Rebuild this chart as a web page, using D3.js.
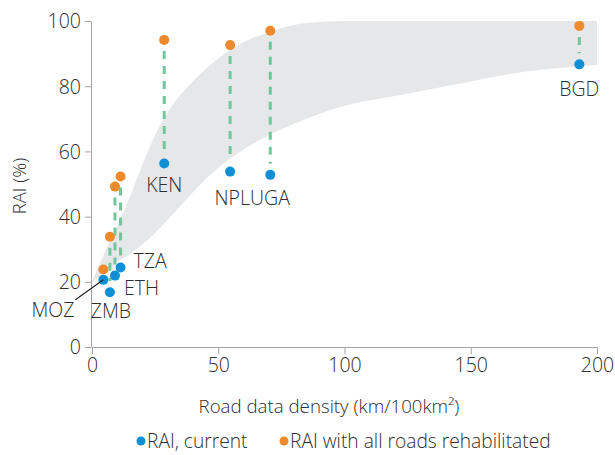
<!DOCTYPE html>
<html>
<head>
<meta charset="utf-8">
<script src="https://cdn.jsdelivr.net/npm/d3@7"></script>
<style>
  html, body { margin: 0; padding: 0; background: #fff; }
  svg { display: block; font-family: "Open Sans", Lato, sans-serif; }
</style>
</head>
<body>
<svg id="chart" width="615" height="455"></svg>
<script>
// ---------- data ----------
const countries   = ["MOZ", "ZMB", "ETH", "TZA", "KEN", "NPL", "UGA", "BGD"];
const density     = [4.5, 7.1, 9.1, 11.3, 28.6, 54.7, 70.6, 193.0];
const raiCurrent  = [20.6, 16.8, 21.9, 24.4, 56.3, 53.8, 52.8, 86.7];
const raiRehab    = [23.8, 33.8, 49.2, 52.3, 94.2, 92.6, 97.0, 98.5];

const bandX     = [0, 5, 10, 15, 20, 25, 30, 40, 50, 60, 70, 80, 90, 100, 120, 145, 170, 200];
const bandUpper = [20, 29, 37, 46, 56, 65, 72, 81.5, 88.5, 93.5, 96.5, 98.8, 99.7, 100, 100, 100, 100, 100];
const bandLower = [20, 23, 26, 28.5, 31.5, 35, 39, 47.5, 55, 60.5, 65, 68.5, 71.5, 74, 77, 80.7, 84.3, 86.5];

const xTicks = [0, 50, 100, 150, 200];
const yTicks = [0, 20, 40, 60, 80, 100];

const labelTexts = ["MOZ", "ZMB", "ETH", "TZA", "KEN", "NPLUGA", "BGD"];
const legendLabels = ["RAI, current", "RAI with all roads rehabilitated"];
const xTitle = "Road data density (km/100km²)";
const yTitle = "RAI (%)";

// ---------- layout / style ----------
const colors = { current: "#0f8fd5", rehab: "#ef8a2c", link: "#6fc79b", band: "#e6e7e8",
                 axis: "#a3a3a3", text: "#2e2e2e" };
const FONT = "'Open Sans', Lato, sans-serif";
const svg = d3.select("#chart");
const x = d3.scaleLinear().domain([0, 200]).range([92, 597]);
const y = d3.scaleLinear().domain([0, 100]).range([347, 21]);

// band
const bandData = bandX.map((d, i) => ({ x: d, lo: bandLower[i], hi: bandUpper[i] }));
svg.append("path")
  .datum(bandData)
  .attr("fill", colors.band)
  .attr("d", d3.area().x(d => x(d.x)).y0(d => y(d.lo)).y1(d => y(d.hi)).curve(d3.curveMonotoneX));

// axes
const yAxis = svg.append("g").attr("transform", `translate(${x(0) - 1},0)`)
  .call(d3.axisLeft(y).tickValues(yTicks).tickSize(6).tickPadding(4).tickSizeOuter(0));
const xAxis = svg.append("g").attr("transform", `translate(0,${y(0)})`)
  .call(d3.axisBottom(x).tickValues(xTicks).tickSize(7).tickPadding(4).tickSizeOuter(0));
[xAxis, yAxis].forEach(g => {
  g.selectAll("path, line").attr("stroke", colors.axis).attr("stroke-width", 1);
  g.selectAll("text").attr("fill", colors.text).style("font-size", "19.5px")
    .style("font-family", FONT).style("font-weight", 300);
});
yAxis.selectAll("text").attr("dy", "0.35em");

// axis titles
svg.append("text").attr("x", 329).attr("y", 413).attr("text-anchor", "middle")
  .attr("fill", colors.text).style("font-size", "18.7px").style("font-weight", 300).text(xTitle);
svg.append("text").attr("transform", `translate(26,${(y(0) + y(100)) / 2 + 2}) rotate(-90)`)
  .attr("text-anchor", "middle").attr("fill", colors.text).style("font-size", "18.5px")
  .style("font-weight", 300).text(yTitle);

// data rows
const rows = countries.map((c, i) => ({ c, d: density[i], cur: raiCurrent[i], reh: raiRehab[i] }));

// dashed links
svg.append("g").selectAll("line")
  .data(rows.filter(r => y(r.cur) - y(r.reh) > 22))
  .join("line")
  .attr("x1", r => x(r.d)).attr("x2", r => x(r.d))
  .attr("y1", r => y(r.reh) + 11).attr("y2", r => y(r.cur) - 11)
  .attr("stroke", colors.link).attr("stroke-width", 3)
  .attr("stroke-dasharray", "8,7");

// points
const r = 5;
svg.append("g").selectAll("circle")
  .data(rows).join("circle")
  .attr("cx", d => x(d.d)).attr("cy", d => y(d.reh)).attr("r", r).attr("fill", colors.rehab);
svg.append("g").selectAll("circle")
  .data(rows).join("circle")
  .attr("cx", d => x(d.d)).attr("cy", d => y(d.cur)).attr("r", r).attr("fill", colors.current);

// labels (placement offsets relative to the current-RAI point)
const byC = Object.fromEntries(rows.map(d => [d.c, d]));
const labelPlacement = {
  MOZ:    { ref: ["MOZ"], dx: -29, dy: 37, anchor: "end" },
  ZMB:    { ref: ["ZMB"], dx: 1, dy: 26, anchor: "middle" },
  ETH:    { ref: ["ETH"], dx: 9, dy: 19, anchor: "start" },
  TZA:    { ref: ["TZA"], dx: 13, dy: 1, anchor: "start" },
  KEN:    { ref: ["KEN"], dx: 0, dy: 29, anchor: "middle" },
  NPLUGA: { ref: ["NPL", "UGA"], dx: 2, dy: 32, anchor: "middle" },
  BGD:    { ref: ["BGD"], dx: 0, dy: 32, anchor: "middle" }
};
const labels = labelTexts.map(t => {
  const p = labelPlacement[t];
  const px = d3.mean(p.ref, k => x(byC[k].d));
  const py = d3.mean(p.ref, k => y(byC[k].cur));
  return { t, x: px + p.dx, y: py + p.dy, anchor: p.anchor };
});
svg.append("g").selectAll("text").data(labels).join("text")
  .attr("x", d => d.x).attr("y", d => d.y).attr("text-anchor", d => d.anchor)
  .attr("fill", colors.text).style("font-size", "19.5px").style("font-weight", 300).text(d => d.t);

// MOZ leader line
const moz = byC["MOZ"];
svg.append("line")
  .attr("x1", x(moz.d)).attr("y1", y(moz.cur))
  .attr("x2", x(moz.d) - 28).attr("y2", y(moz.cur) + 20)
  .attr("stroke", "#222").attr("stroke-width", 1.2);

// legend
const legend = svg.append("g").attr("transform", "translate(0,441)");
const legendItems = [
  { label: legendLabels[0], color: colors.current, x: 141 },
  { label: legendLabels[1], color: colors.rehab, x: 284 }
];
legendItems.forEach(it => {
  legend.append("circle").attr("cx", it.x).attr("cy", 0).attr("r", 4.5).attr("fill", it.color);
  legend.append("text").attr("x", it.x + 6).attr("y", 0).attr("dy", "0.35em")
    .attr("fill", colors.text).style("font-size", "19.2px").style("font-weight", 300).text(it.label);
});
</script>
</body>
</html>
